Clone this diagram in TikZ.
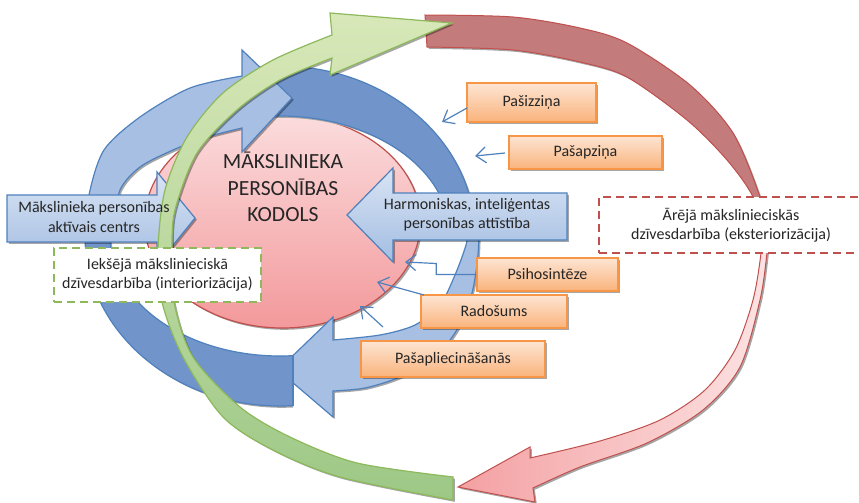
\documentclass[tikz,border=0pt]{standalone}
\usepackage{fontspec}
\setmainfont{Carlito}
\usetikzlibrary{arrows.meta,shadows,calc}
\definecolor{ringdark}{HTML}{7195CB}
\definecolor{ringlight}{HTML}{A6BFE3}
\definecolor{blueline}{HTML}{4F81BD}
\definecolor{orline}{HTML}{F79646}
\definecolor{ortop}{HTML}{FDE5D3}
\definecolor{orbot}{HTML}{FAB37C}
\definecolor{redline}{HTML}{C0504D}
\definecolor{reddark}{HTML}{C47B7B}
\definecolor{pinkl}{HTML}{FCE3E3}
\definecolor{pinkd}{HTML}{F4A0A2}
\definecolor{elltop}{HTML}{FBDCDD}
\definecolor{ellbot}{HTML}{F3999B}
\definecolor{greenline}{HTML}{8DB85B}
\definecolor{greentop}{HTML}{D8E8B8}
\definecolor{greenbot}{HTML}{9DC886}
\definecolor{txt}{HTML}{262626}
\definecolor{bluetop}{HTML}{D9E4F4}
\definecolor{bluebot}{HTML}{A3BDE2}
\tikzset{
  txtfont/.style={font=\fontsize{8}{9.6}\selectfont, text=txt},
  shad/.style={drop shadow={shadow xshift=0.9pt, shadow yshift=-0.9pt, opacity=0.35, fill=black}},
  obox/.style={shad, draw=orline, line width=0.7pt, top color=ortop, bottom color=orbot, inner sep=0pt, txtfont},
  barrow/.style={shad, draw=blueline, line width=0.6pt, top color=bluetop, bottom color=bluebot},
  ringedge/.style={draw=blueline, line width=0.6pt},
  ringshadow/.style={fill=black!35, even odd rule, xshift=0.9pt, yshift=-0.9pt},
  conn/.style={draw=blueline, line width=0.6pt, -{Straight Barb[length=5pt,width=8pt]}},
  dbox/.style={fill=white, line width=0.7pt, dash pattern=on 4pt off 2.5pt, inner sep=0pt, txtfont, align=center},
}
\begin{document}
\begin{tikzpicture}[x=0.5pt,y=-0.5pt]
\useasboundingbox (0,0) rectangle (859,503);
% core ellipse
\path[shad, draw=redline, line width=0.6pt, top color=elltop, bottom color=ellbot] (282.5,221.5) ellipse [x radius=138, y radius=106.5];
% dark ring, top right
\begin{scope}
\clip (242,0) rectangle (500,225);
\fill[ringshadow] (280,236) ellipse [x radius=195, y radius=170] (280,236) ellipse [x radius=170, y radius=120];
\fill[ringdark, even odd rule] (280,236) ellipse [x radius=195, y radius=170] (280,236) ellipse [x radius=170, y radius=120];
\draw[ringedge] (280,236) ellipse [x radius=195, y radius=170] (280,236) ellipse [x radius=170, y radius=120];
\end{scope}
% light arrow, top left
\path[shad, draw=blueline, line width=0.6pt, fill=ringlight] plot[smooth] coordinates {(88,228) (89,195) (104,150) (140,117) (190,88) (242,76)} -- (242,50) -- (292,98) -- (242,152) -- plot[smooth] coordinates {(242,128) (207,137) (173,150) (140,167) (120,190) (113,228)} -- cycle;
% light arrow, bottom right
\path[shad, draw=blueline, line width=0.6pt, fill=ringlight] plot[smooth] coordinates {(479,222) (478,255) (472,293) (458,328) (435,357) (400,377) (365,388) (333,391)} -- (333,417) -- (278,370) -- (333,317) -- plot[smooth] coordinates {(333,340) (380,335) (415,325) (440,305) (455,275) (466,245) (470,222)} -- cycle;
% dark ring, bottom left
\begin{scope}
\clip (0,225) rectangle (293,503);
\fill[ringshadow] (280,236) ellipse [x radius=195, y radius=170] (280,236) ellipse [x radius=170, y radius=120];
\fill[ringdark, even odd rule] (280,236) ellipse [x radius=195, y radius=170] (280,236) ellipse [x radius=170, y radius=120];
\draw[ringedge] (280,236) ellipse [x radius=195, y radius=170] (280,236) ellipse [x radius=170, y radius=120];
\end{scope}
\draw[ringedge] (293,355.6) -- (293,405.6);
% red band and pink arrow
\path[shad, draw=redline, line width=0.5pt, fill=reddark] plot[smooth] coordinates {(425,15) (513,17) (580,28) (627,43) (690,85) (733,133) (760,197) (765,228)} -- plot[smooth] coordinates {(757,228) (753,197) (727,160) (687,120) (627,77) (580,62) (513,50) (427,47)} -- cycle;
\path[shad, draw=redline, line width=0.5pt, left color=pinkd, right color=pinkl] plot[smooth] coordinates {(769,228) (767,253) (760,300) (740,367) (703,410) (647,443) (580,467) (533,488)} -- (535,502) -- (458,487) -- (530,447) -- plot[smooth] coordinates {(530,458) (600,441) (660,420) (705,390) (735,350) (753,300) (761,253) (761,228)} -- cycle;
% block arrows
\path[barrow] (7,195) -- (157,195) -- (157,172) -- (195,218) -- (157,265) -- (157,242) -- (7,242) -- cycle;
\path[barrow] (567,193) -- (393,193) -- (393,168) -- (347,215) -- (393,262) -- (393,240) -- (567,240) -- cycle;
% green arrow
\path[shad, draw=greenline, line width=0.6pt, top color=greentop, bottom color=greenbot] plot[smooth] coordinates {(453,500) (340,477) (273,450) (223,417) (183,357) (162,302) (158,250) (165,190) (187,137) (223,93) (273,60) (332,35)} -- (330,13) -- (452,23) -- (330,75) -- plot[smooth] coordinates {(332,58) (280,80) (237,110) (197,153) (175,210) (172,250) (174,302) (193,357) (240,407) (290,437) (357,463) (453,477)} -- cycle;
% texts of block arrows
\node[txtfont, align=center] (lc) at (94,217) {Mākslinieka personības\\aktīvais centrs};
\node[txtfont, align=center] (hc) at (467,214.5) {Harmoniskas, inteliģentas\\personības attīstība};
% dashed boxes
\node[dbox, draw=greenline, minimum width=103.5pt, minimum height=27pt] (ie) at (157.5,275) {Iekšējā mākslinieciskā\\dzīvesdarbība (interiorizācija)};
\node[dbox, draw=redline, minimum width=132pt, minimum height=28pt] (ar) at (731,225) {Ārējā mākslinieciskās\\dzīvesdarbība (eksteriorizācija)};
% orange boxes
\node[obox, minimum width=64.5pt, minimum height=19.5pt] (p1) at (531.5,102.5) {Pašizziņa};
\node[obox, minimum width=76.5pt, minimum height=16.5pt] (p2) at (585.5,152.5) {Pašapziņa};
\node[obox, minimum width=70.5pt, minimum height=16.5pt] (p3) at (547.5,274.5) {Psihosintēze};
\node[obox, minimum width=73pt, minimum height=16.5pt] (p4) at (494,311.5) {Radošums};
\node[obox, minimum width=92pt, minimum height=18pt] (p5) at (453,359) {Pašapliecināšanās};
% connectors
\coordinate (s1) at (467,108); \coordinate (e1) at (442,122);
\coordinate (s2) at (505,153); \coordinate (e2) at (475,156);
\coordinate (e3) at (405,262);
\coordinate (s4) at (424,295); \coordinate (e4) at (377,282);
\coordinate (s5) at (383,327); \coordinate (e5) at (360,306);
\draw[conn] (s1) -- (e1);
\draw[conn] (s2) -- (e2);
\draw[conn] (p3.west) -- ++(-40,0) -- ++(0,-11) -- (e3);
\draw[conn] (s4) -- (e4);
\draw[conn] (s5) -- (e5);
% core text
\node[font=\fontsize{10.8}{13.3}\selectfont, text=txt, align=center] (core) at (283,187) {MĀKSLINIEKA\\PERSONĪBAS\\KODOLS};
\end{tikzpicture}
\end{document}
